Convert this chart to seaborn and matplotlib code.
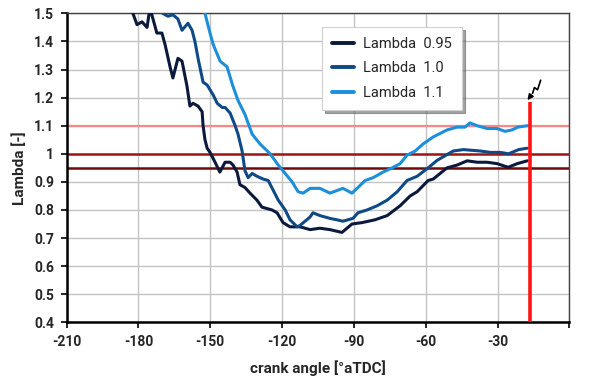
import numpy as np
import pandas as pd
import matplotlib
matplotlib.use('Agg')
import matplotlib.pyplot as plt
import seaborn as sns

# Traces (crank angle in degrees aTDC, lambda)
angle_095 = [-182.3, -180.6, -178.5, -176.4, -175.2, -172.3, -170.2, -168.9, -166.8, -165.6,
             -163.5, -161.8, -159.7, -158.5, -157.2, -155.1, -153.4, -153.0, -152.2, -151.3,
             -150.1, -148.0, -146.0, -143.8, -141.7, -140.5, -138.8, -137.6, -135.5, -133.4,
             -130.5, -128.4, -126.3, -124.2, -122.1, -119.6, -116.7, -112.5, -108.3, -104.2,
             -100.0, -95.0, -90.8, -86.6, -81.2, -76.1, -70.7, -66.5, -63.6, -59.0,
             -56.9, -51.1, -46.9, -42.7, -38.5, -34.4, -30.2, -25.6, -21.8, -17.6]
lambda_095 = [1.50, 1.46, 1.47, 1.45, 1.52, 1.43, 1.43, 1.39, 1.31, 1.27,
              1.34, 1.33, 1.24, 1.17, 1.18, 1.17, 1.15, 1.10, 1.05, 1.02,
              1.005, 0.97, 0.935, 0.97, 0.97, 0.96, 0.935, 0.89, 0.88, 0.86,
              0.835, 0.81, 0.805, 0.80, 0.79, 0.755, 0.74, 0.74, 0.73, 0.735,
              0.73, 0.72, 0.75, 0.755, 0.765, 0.78, 0.815, 0.85, 0.865, 0.905,
              0.91, 0.95, 0.96, 0.975, 0.97, 0.97, 0.965, 0.952, 0.965, 0.975]

angle_100 = [-169.8, -167.7, -165.6, -163.5, -161.8, -159.3, -157.6, -156.4, -155.1, -153.0,
             -151.3, -148.8, -147.1, -145.0, -143.8, -141.7, -139.6, -138.4, -136.7, -135.5,
             -134.2, -132.5, -130.5, -127.9, -125.8, -123.7, -121.6, -118.7, -116.7, -113.7,
             -112.5, -108.3, -107.1, -104.2, -100.0, -97.1, -94.6, -90.4, -88.3, -84.5,
             -80.3, -76.1, -71.9, -67.8, -63.6, -59.0, -55.2, -48.5, -44.3, -37.2,
             -33.0, -28.8, -25.4, -21.2, -17.6]
lambda_100 = [1.50, 1.49, 1.495, 1.48, 1.44, 1.465, 1.44, 1.40, 1.34, 1.255,
              1.245, 1.21, 1.18, 1.165, 1.165, 1.145, 1.10, 1.07, 1.01, 0.94,
              0.915, 0.93, 0.92, 0.91, 0.905, 0.87, 0.835, 0.80, 0.765, 0.74,
              0.745, 0.775, 0.79, 0.78, 0.77, 0.765, 0.76, 0.77, 0.79, 0.80,
              0.815, 0.835, 0.865, 0.905, 0.92, 0.95, 0.977, 1.01, 1.015, 1.01,
              1.005, 1.005, 1.0, 1.015, 1.02]

angle_110 = [-152.2, -150.1, -148.8, -145.9, -143.0, -140.5, -138.4, -135.5, -132.5, -129.2,
             -125.0, -121.6, -118.7, -115.8, -113.3, -111.2, -108.3, -104.2, -100.0, -94.6,
             -90.8, -88.3, -85.3, -82.0, -77.8, -74.0, -70.7, -67.8, -64.4, -61.1,
             -56.9, -51.1, -46.9, -43.6, -41.5, -38.5, -34.4, -30.2, -26.9, -24.0,
             -21.5, -17.6]
lambda_110 = [1.50, 1.43, 1.39, 1.33, 1.31, 1.24, 1.19, 1.14, 1.07, 1.035,
              1.0, 0.96, 0.93, 0.90, 0.865, 0.86, 0.877, 0.877, 0.86, 0.877,
              0.86, 0.88, 0.905, 0.915, 0.935, 0.95, 0.965, 0.995, 1.01, 1.035,
              1.06, 1.085, 1.095, 1.095, 1.11, 1.10, 1.09, 1.09, 1.08, 1.085,
              1.095, 1.10]

series_labels = ['Lambda  0.95', 'Lambda  1.0', 'Lambda  1.1']
ref_levels = [1.1, 1.0, 0.95]
ignition_angle = -16.3
ignition_top = 1.183

df = pd.concat([
    pd.DataFrame({'angle': angle_095, 'lam': lambda_095, 'case': series_labels[0]}),
    pd.DataFrame({'angle': angle_100, 'lam': lambda_100, 'case': series_labels[1]}),
    pd.DataFrame({'angle': angle_110, 'lam': lambda_110, 'case': series_labels[2]}),
])

sns.set_style('whitegrid')
plt.rcParams['font.family'] = ['Roboto', 'DejaVu Sans']

fig = plt.figure(figsize=(6, 3.83), dpi=100)
ax = fig.add_axes([0.111, 0.1585, 0.838, 0.8065])

# reference lambda lines
ax.axhline(ref_levels[0], color='#f28a8a', lw=1.6, zorder=2)
ax.axhline(ref_levels[1], color='#9e1515', lw=1.8, zorder=2)
ax.axhline(ref_levels[2], color='#6e0a0a', lw=1.8, zorder=2)

palette = {series_labels[0]: '#0b1a3c', series_labels[1]: '#0f4a87', series_labels[2]: '#1b8fdc'}
sns.lineplot(data=df, x='angle', y='lam', hue='case', palette=palette, sort=False,
             linewidth=2.2, ax=ax, zorder=3)

# ignition marker
ax.vlines(ignition_angle, 0.4, ignition_top, color='#ff1414', lw=2.6, zorder=4, clip_on=False)
ax.plot([-12.0, -13.3, -14.6, -15.4], [1.262, 1.228, 1.236, 1.215], color='black', lw=1.2, zorder=5, clip_on=False)
ax.annotate('', xy=(-18.2, 1.183), xytext=(-15.4, 1.215),
            arrowprops=dict(arrowstyle='-|>', color='black', lw=1.2, mutation_scale=8), zorder=5)

ax.set_xlim(-210, 0)
ax.set_ylim(0.4, 1.5)
ax.set_xticks(np.arange(-210, 1, 30))
ax.set_xticklabels(['-210', '-180', '-150', '-120', '-90', '-60', '-30', ''])
ax.set_yticks(np.arange(0.4, 1.51, 0.1))
ax.set_yticklabels(['0.4', '0.5', '0.6', '0.7', '0.8', '0.9', '1', '1.1', '1.2', '1.3', '1.4', '1.5'])
ax.grid(True, color='#c4c4c4', lw=1.0)
ax.set_axisbelow(True)

for s in ['left', 'bottom']:
    ax.spines[s].set_color('black')
    ax.spines[s].set_linewidth(1.8)
for s in ['top', 'right']:
    ax.spines[s].set_color('#404040')
    ax.spines[s].set_linewidth(1.0)

ax.tick_params(axis='both', which='both', direction='out', length=4, width=1.2,
               color='black', labelsize=10, pad=5, bottom=True, left=True)
for lbl in ax.get_xticklabels() + ax.get_yticklabels():
    lbl.set_fontweight('bold')

ax.set_xlabel('crank angle [°aTDC]', fontsize=11, fontweight='bold', labelpad=8)
ax.set_ylabel('Lambda [-]', fontsize=11, fontweight='bold', labelpad=5)

handles, labels = ax.get_legend_handles_labels()
leg = ax.legend(handles, labels, loc='upper left', bbox_to_anchor=(0.508, 0.956),
                borderaxespad=0, frameon=True, fancybox=False, shadow=True, fontsize=10.5,
                handlelength=1.5, labelspacing=0.7, borderpad=0.7, handletextpad=0.6)
leg.get_frame().set_edgecolor('#d0d0d0')
leg.get_frame().set_linewidth(0.8)
leg.set_zorder(10)
for ln in leg.get_lines():
    ln.set_linewidth(2.8)

fig.savefig('out.png', dpi=100)
